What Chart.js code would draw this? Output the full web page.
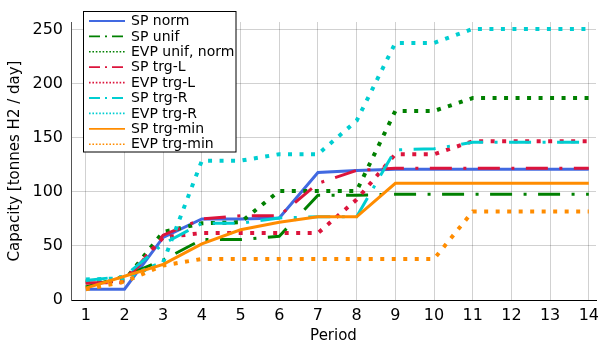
<!DOCTYPE html>
<html>
<head>
<meta charset="utf-8">
<script src="https://cdn.jsdelivr.net/npm/chart.js@4/dist/chart.umd.min.js"></script>
<style>
  html, body { margin: 0; padding: 0; background: #fff; }
  #wrap { width: 605px; height: 345px; }
</style>
</head>
<body>
<div id="wrap"><canvas id="c" width="605" height="345"></canvas></div>
<script>
// ---- data ----
const periods = [1, 2, 3, 4, 5, 6, 7, 8, 9, 10, 11, 12, 13, 14];
const yTicks = [0, 50, 100, 150, 200, 250];
const seriesNames = ["SP norm", "SP unif", "EVP unif, norm", "SP trg-L", "EVP trg-L", "SP trg-R", "EVP trg-R", "SP trg-min", "EVP trg-min"];
const spNorm    = [10, 10, 58, 75, 75, 76, 118, 120, 121, 121, 121, 121, 121, 121];
const spUnif    = [12, 22, 37, 56, 56, 59, 97, 97, 98, 98, 98, 98, 98, 98];
const evpUnif   = [17, 18, 63, 71, 72, 101, 101, 101, 175, 175, 187, 187, 187, 187];
const spTrgL    = [16, 16, 60, 75, 78, 78, 108, 120, 122, 122, 122, 122, 122, 122];
const evpTrgL   = [16, 18, 58, 62, 62, 62, 62, 93, 135, 135, 147, 147, 147, 147];
const spTrgR    = [18, 22, 52, 71, 71, 76, 77, 77, 139, 140, 146, 146, 146, 146];
const evpTrgR   = [19, 20, 35, 129, 129, 135, 135, 166, 238, 238, 251, 251, 251, 251];
const spTrgMin  = [11, 22, 33, 52, 65, 72, 77, 77, 108, 108, 108, 108, 108, 108];
const evpTrgMin = [10, 17, 32, 38, 38, 38, 38, 38, 38, 38, 82, 82, 82, 82];

// ---- styles ----
const BLUE = "#4169E1", GREEN = "#008000", RED = "#DC143C", CYAN = "#00CED1", ORANGE = "#FF8C00";
const SOLID = [], DASHDOT = [22, 11.5, 3, 11.5], DOT = [4, 7.5];
const styles = [
  {c: BLUE,   d: SOLID,   w: 3, kind: "solid"},
  {c: GREEN,  d: DASHDOT, w: 3, kind: "dashdot"},
  {c: GREEN,  d: DOT,     w: 4, kind: "dot"},
  {c: RED,    d: DASHDOT, w: 3, kind: "dashdot"},
  {c: RED,    d: DOT,     w: 4, kind: "dot"},
  {c: CYAN,   d: DASHDOT, w: 3, kind: "dashdot"},
  {c: CYAN,   d: DOT,     w: 4, kind: "dot"},
  {c: ORANGE, d: SOLID,   w: 3, kind: "solid"},
  {c: ORANGE, d: DOT,     w: 4, kind: "dot"}
];
const allSeries = [spNorm, spUnif, evpUnif, spTrgL, evpTrgL, spTrgR, evpTrgR, spTrgMin, evpTrgMin];

const datasets = allSeries.map((vals, i) => ({
  label: seriesNames[i],
  data: periods.map((p, k) => ({x: p, y: vals[k]})),
  borderColor: styles[i].c,
  backgroundColor: styles[i].c,
  borderWidth: styles[i].w,
  borderDash: styles[i].d,
  borderCapStyle: "butt",
  borderJoinStyle: "miter",
  pointRadius: 0,
  tension: 0,
  fill: false,
  order: allSeries.length - i
}));

const FONT = "'DejaVu Sans', sans-serif";

const legendPlugin = {
  id: "boxLegend",
  afterDraw(chart) {
    const ctx = chart.ctx;
    const x0 = 83.5, y0 = 11.5, w = 152.5, h = 140.5;
    ctx.save();
    ctx.fillStyle = "#fff";
    ctx.fillRect(x0, y0, w, h);
    ctx.strokeStyle = "#000";
    ctx.lineWidth = 1;
    ctx.setLineDash([]);
    ctx.strokeRect(x0, y0, w, h);
    ctx.font = "14px " + FONT;
    ctx.textBaseline = "middle";
    ctx.textAlign = "left";
    seriesNames.forEach((name, i) => {
      const yy = 21 + i * 15.4;
      const st = styles[i];
      ctx.beginPath();
      ctx.strokeStyle = st.c;
      ctx.lineWidth = st.kind === "dot" ? 1.6 : 1.8;
      ctx.lineCap = "butt";
      if (st.kind === "dashdot") ctx.setLineDash([11, 5, 2, 5]);
      else if (st.kind === "dot") ctx.setLineDash([1.6, 1.8]);
      else ctx.setLineDash([]);
      ctx.moveTo(89, yy);
      ctx.lineTo(125, yy);
      ctx.stroke();
      ctx.setLineDash([]);
      ctx.fillStyle = "#000";
      ctx.fillText(name, 131, yy + 0.5);
    });
    ctx.restore();
  }
};

new Chart(document.getElementById("c"), {
  type: "line",
  data: { datasets },
  options: {
    responsive: false,
    animation: false,
    layout: { padding: { top: 22, right: 1, left: 0, bottom: 0 } },
    plugins: { legend: { display: false }, tooltip: { enabled: false } },
    scales: {
      x: {
        type: "linear",
        min: 0.618,
        max: 14.186,
        afterBuildTicks(scale) { scale.ticks = periods.map(v => ({value: v})); },
        afterFit(scale) { scale.height = 45; },
        grid: { color: "rgba(0,0,0,0.18)", lineWidth: 1, drawTicks: false },
        border: { color: "#000", width: 1 },
        ticks: { color: "#000", font: { family: FONT, size: 16 }, padding: 6, maxRotation: 0, autoSkip: false },
        title: { display: true, text: "Period", color: "#000", font: { family: FONT, size: 15 }, padding: { top: 2, bottom: 0 } }
      },
      y: {
        type: "linear",
        min: 0,
        max: 257.4,
        afterBuildTicks(scale) { scale.ticks = yTicks.map(v => ({value: v})); },
        afterFit(scale) { scale.width = 71; },
        grid: { color: "rgba(0,0,0,0.18)", lineWidth: 1, drawTicks: false },
        border: { color: "#555", width: 1 },
        ticks: { color: "#000", font: { family: FONT, size: 16 }, padding: 8 },
        title: { display: true, text: "Capacity [tonnes H2 / day]", color: "#000", font: { family: FONT, size: 15 }, padding: { top: 6, bottom: 0 } }
      }
    }
  },
  plugins: [legendPlugin]
});
</script>
</body>
</html>
